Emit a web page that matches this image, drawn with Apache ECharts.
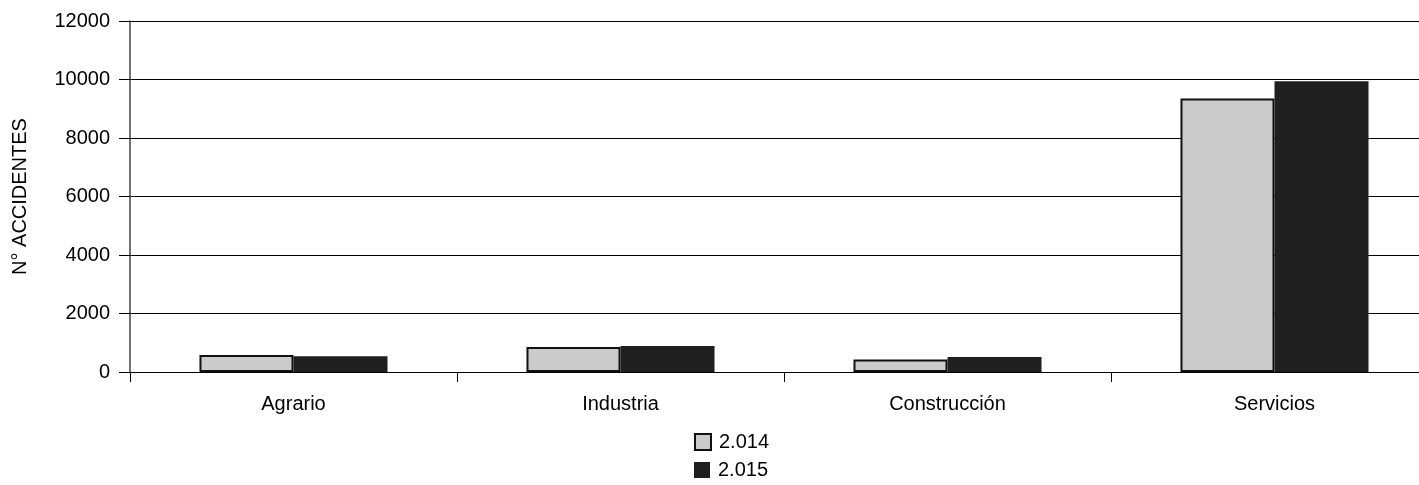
<!DOCTYPE html>
<html>
<head>
<meta charset="utf-8">
<script src="https://cdn.jsdelivr.net/npm/echarts@6/dist/echarts.min.js"></script>
<style>
html,body{margin:0;padding:0;background:#fff;overflow:hidden;width:1419px;height:485px;}
#c{width:1438px;height:485px;}
</style>
</head>
<body>
<div id="c"></div>
<script>
const categories = ['Agrario', 'Industria', 'Construcción', 'Servicios'];
const seriesNames = ['2.014', '2.015'];
const values2014 = [580, 855, 430, 9350];
const values2015 = [540, 890, 510, 9940];
const yTicks = [0, 2000, 4000, 6000, 8000, 10000, 12000];

const FONT = '"Liberation Sans", Arial, sans-serif';
const FS = 20;
const legendText = {fontFamily: FONT, fontSize: FS, color: '#000', padding: [0, 0, 0, 3]};
const chart = echarts.init(document.getElementById('c'), null, {renderer: 'canvas'});
chart.setOption({
  animation: false,
  backgroundColor: '#ffffff',
  textStyle: {fontFamily: FONT},
  grid: {left: 130, right: 0, top: 21, bottom: 113, containLabel: false},
  legend: [
    {
      left: 689, top: 427, itemWidth: 16, itemHeight: 16, itemGap: 0, icon: 'rect',
      textStyle: legendText, data: [seriesNames[0]]
    },
    {
      left: 689, top: 455, itemWidth: 16, itemHeight: 16, itemGap: 0, icon: 'rect',
      textStyle: legendText, data: [seriesNames[1]]
    }
  ],
  xAxis: {
    type: 'category',
    data: categories,
    axisLine: {lineStyle: {color: '#000', width: 1}},
    axisTick: {show: true, length: 10, lineStyle: {color: '#000'}},
    axisLabel: {fontFamily: FONT, fontSize: FS, color: '#000', margin: 22}
  },
  yAxis: {
    type: 'value',
    min: yTicks[0],
    max: yTicks[yTicks.length - 1],
    interval: 2000,
    name: 'N° ACCIDENTES',
    nameLocation: 'middle',
    nameRotate: 90,
    nameGap: 100,
    nameTextStyle: {fontFamily: FONT, fontSize: FS, color: '#000'},
    axisLine: {show: true, lineStyle: {color: '#444', width: 1.5}},
    axisTick: {show: true, length: 11, lineStyle: {color: '#000'}},
    axisLabel: {fontFamily: FONT, fontSize: FS, color: '#000', margin: 20,
      formatter: function (v) { return String(v); }},
    splitLine: {show: true, lineStyle: {color: '#000', width: 1}}
  },
  series: [
    {
      name: seriesNames[0],
      type: 'bar',
      data: values2014,
      barGap: '0%',
      barCategoryGap: '42.5%',
      itemStyle: {color: '#cbcbcb', borderColor: '#111', borderWidth: 2}
    },
    {
      name: seriesNames[1],
      type: 'bar',
      data: values2015,
      barGap: '0%',
      barCategoryGap: '42.5%',
      itemStyle: {color: '#1f1f1f', borderColor: '#1f1f1f', borderWidth: 0}
    }
  ]
});
</script>
</body>
</html>
